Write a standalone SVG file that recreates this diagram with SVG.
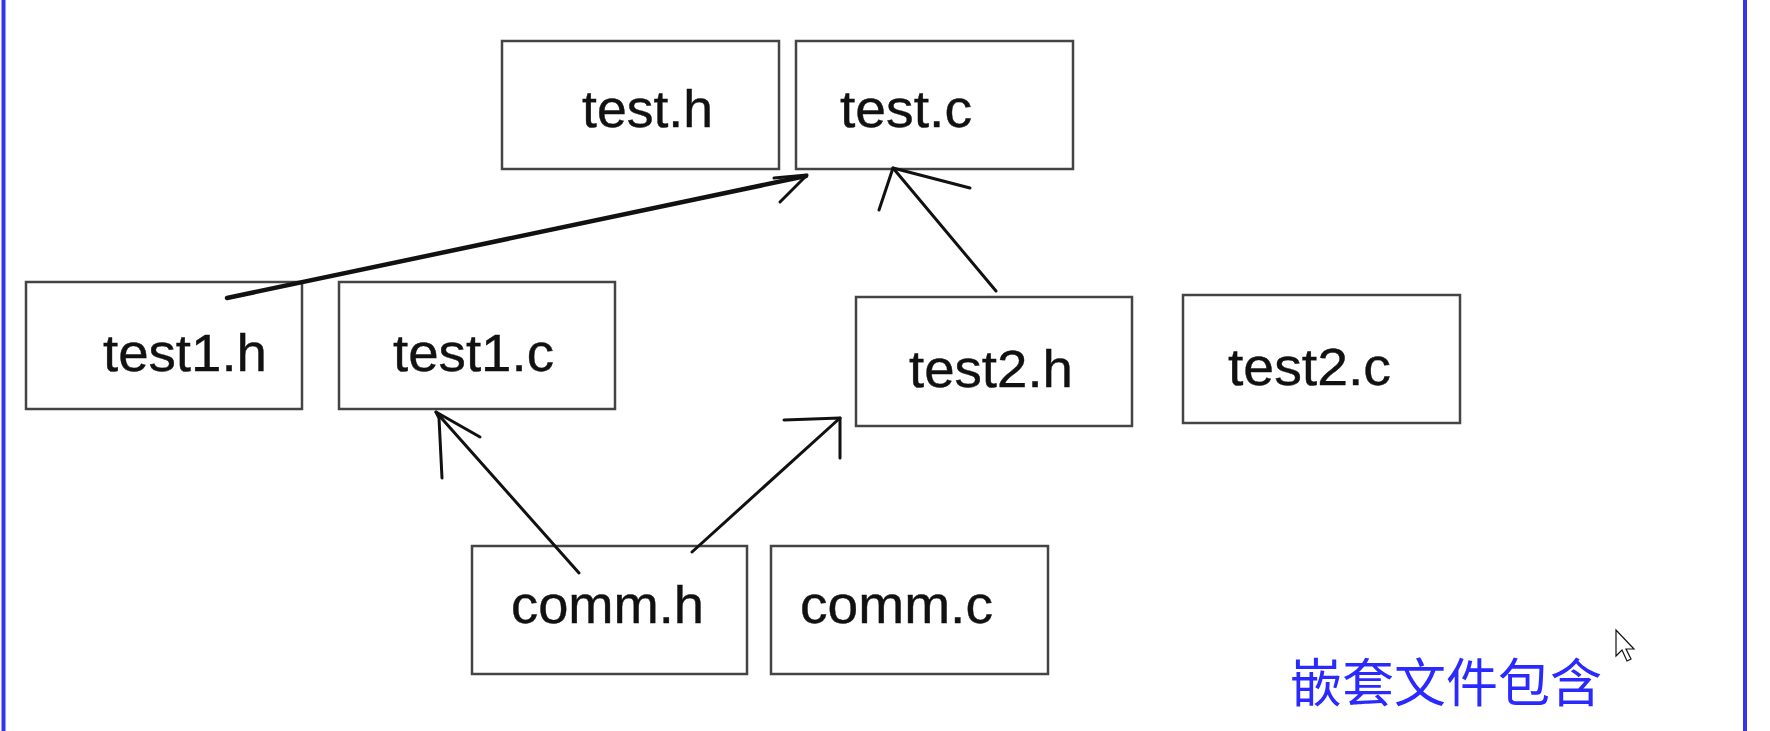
<svg xmlns="http://www.w3.org/2000/svg" width="1770" height="731" viewBox="0 0 1770 731">
<style>
.box{fill:#ffffff;stroke:#444444;stroke-width:2.5}
.lbl{font-family:"Liberation Sans",Arial,sans-serif;font-size:51px;fill:#111111;stroke:#111111;stroke-width:0.4}
.ln{fill:none;stroke:#111111;stroke-width:3;stroke-linecap:round;stroke-linejoin:round}
.thick{stroke-width:4.5}
.cap{font-family:"Noto Sans CJK SC","Noto Sans",sans-serif;font-size:52px;fill:#2a2aff}
</style>
<rect width="1770" height="731" fill="#ffffff"/>
<line x1="3.5" y1="0" x2="3.5" y2="731" stroke="#3333ee" stroke-width="4"/>
<line x1="1745" y1="0" x2="1745" y2="731" stroke="#3333ee" stroke-width="4"/>
<g id="test_h"><rect class="box" x="502" y="41" width="277" height="128"/><text class="lbl" x="582" y="127" textLength="131" lengthAdjust="spacingAndGlyphs">test.h</text></g>
<g id="test_c"><rect class="box" x="796" y="41" width="277" height="128"/><text class="lbl" x="840" y="127" textLength="132" lengthAdjust="spacingAndGlyphs">test.c</text></g>
<g id="test1_h"><rect class="box" x="26" y="282" width="276" height="127"/><text class="lbl" x="103" y="371" textLength="164" lengthAdjust="spacingAndGlyphs">test1.h</text></g>
<g id="test1_c"><rect class="box" x="339" y="282" width="276" height="127"/><text class="lbl" x="393" y="371" textLength="161" lengthAdjust="spacingAndGlyphs">test1.c</text></g>
<g id="test2_h"><rect class="box" x="856" y="297" width="276" height="129"/><text class="lbl" x="909" y="387" textLength="164" lengthAdjust="spacingAndGlyphs">test2.h</text></g>
<g id="test2_c"><rect class="box" x="1183" y="295" width="277" height="128"/><text class="lbl" x="1228" y="385" textLength="163" lengthAdjust="spacingAndGlyphs">test2.c</text></g>
<g id="comm_h"><rect class="box" x="472" y="546" width="275" height="128"/><text class="lbl" x="511" y="623" textLength="193" lengthAdjust="spacingAndGlyphs">comm.h</text></g>
<g id="comm_c"><rect class="box" x="771" y="546" width="277" height="128"/><text class="lbl" x="800" y="623" textLength="193" lengthAdjust="spacingAndGlyphs">comm.c</text></g>
<g id="connectors">
<polyline class="ln thick" points="227,298 806,176"/>
<polyline class="ln" points="774,178 807,175 780,202"/>
<polyline class="ln" points="996,291 893,168"/>
<polyline class="ln" points="879,210 893,168 970,188"/>
<polyline class="ln" points="579,573 436,412"/>
<polyline class="ln" points="442,478 439,418 436,412 480,437"/>
<polyline class="ln" points="692,552 840,418"/>
<polyline class="ln" points="784,420 840,418 840,458"/>
</g>
<text class="cap" x="1290" y="702">嵌套文件包含</text>
<path d="M1616,630 L1616,656 L1622,650 L1627,661 L1631,659 L1626,649 L1634,649 Z" fill="#ffffff" stroke="#111111" stroke-width="1.2"/>
</svg>
